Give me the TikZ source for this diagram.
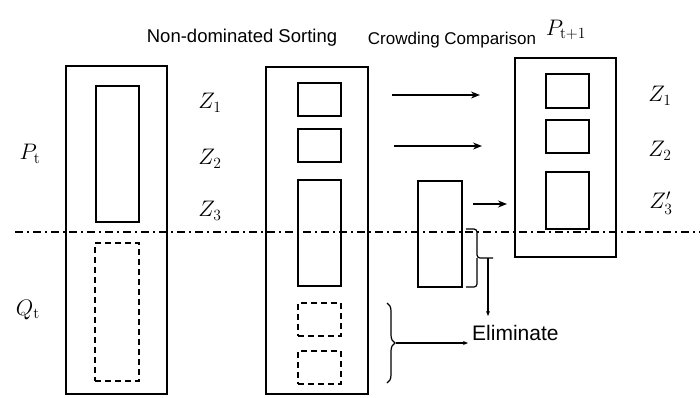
\documentclass[tikz,border=0pt]{standalone}
\usepackage{graphicx}
\usepackage[no-math]{fontspec}
\setmainfont{Liberation Sans}
\usetikzlibrary{arrows.meta,decorations.pathreplacing}
\newcommand{\bigmath}[1]{\scalebox{1.3}{$#1$}}
\begin{document}
\begin{tikzpicture}[x=1pt,y=-1pt,
  box/.style={draw,line width=1.6pt,inner sep=0pt,outer sep=0pt,anchor=north west},
  dbox/.style={box,dashed,line width=1.4pt,dash pattern=on 6pt off 4pt},
  lbl/.style={font=\fontsize{18.5}{22}\selectfont,inner sep=0pt},
  mlbl/.style={font=\fontsize{17.28}{21}\selectfont,inner sep=0pt},
  arr/.style={line width=1.4pt,-{Stealth[length=9pt,width=7pt]}},
  brc/.style={line width=1.2pt}]
\useasboundingbox (0,0) rectangle (700,397);
% left column
\node[box,minimum width=101pt,minimum height=328pt] (Lout) at (66,66) {};
\node[box,minimum width=43pt,minimum height=136pt] (Lin) at (96,86) {};
\node[dbox,minimum width=44pt,minimum height=138pt] (Ldash) at (95,243) {};
% middle column
\node[box,minimum width=102pt,minimum height=327pt] (Mout) at (266,67) {};
\node[box,minimum width=43pt,minimum height=33pt] (Mz1) at (298,83) {};
\node[box,minimum width=43pt,minimum height=33pt] (Mz2) at (298,129) {};
\node[box,minimum width=43pt,minimum height=106pt] (Mz3) at (298,180) {};
\node[dbox,minimum width=43pt,minimum height=33pt] (Md1) at (298,303) {};
\node[dbox,minimum width=43pt,minimum height=33pt] (Md2) at (298,351) {};
% crowding box
\node[box,minimum width=44pt,minimum height=106pt] (C) at (418,181) {};
% right column
\node[box,minimum width=101pt,minimum height=199pt] (Rout) at (515,58) {};
\node[box,minimum width=43pt,minimum height=34pt] (Rz1) at (546,74) {};
\node[box,minimum width=43pt,minimum height=33pt] (Rz2) at (546,120) {};
\node[box,minimum width=43pt,minimum height=57pt] (Rz3) at (546,172) {};
% dash-dot separator
\coordinate (sepL) at (15,232);
\coordinate (sepR) at (700,232);
\draw[line width=1.3pt,dash pattern=on 8pt off 4pt on 2pt off 4pt] (sepL) -- (sepR);
% titles
\node[lbl] (t1) at (242,38) {Non-dominated Sorting};
\node[lbl,font=\fontsize{17}{20}\selectfont] (t2) at (452,40) {Crowding Comparison};
\node[mlbl] (Pn) at (566,30) {\bigmath{P_{\mathrm{t+1}}}};
% side labels
\node[mlbl] (Pt) at (30,154) {\bigmath{P_{\mathrm{t}}}};
\node[mlbl] (Qt) at (28,310) {\bigmath{Q_{\mathrm{t}}}};
\node[mlbl] (Z1) at (210,103) {\bigmath{Z_1}};
\node[mlbl] (Z2) at (210,159) {\bigmath{Z_2}};
\node[mlbl] (Z3) at (210,211) {\bigmath{Z_3}};
\node[mlbl] (RZ1) at (660,96) {\bigmath{Z_1}};
\node[mlbl] (RZ2) at (660,151) {\bigmath{Z_2}};
\node[mlbl] (RZ3) at (661,203) {\bigmath{Z_3'}};
% arrows
\coordinate (a1s) at (392,95); \coordinate (a1e) at (480,95);
\coordinate (a2s) at (394,146); \coordinate (a2e) at (482,146);
\coordinate (a3s) at (473,204); \coordinate (a3e) at (507,204);
\draw[arr] (a1s) -- (a1e);
\draw[arr] (a2s) -- (a2e);
\draw[arr] (a3s) -- (a3e);
% small bracket
\coordinate (sbT) at (466,229);
\coordinate (sbB) at (466,287);
\coordinate (sbR) at (493,258);
\coordinate (sbA) at (488,258);
\coordinate (sbE) at (488,316);
\draw[brc,rounded corners=3pt] (sbT) -- (477,229) -- (477,258) -- (sbR);
\draw[brc,rounded corners=3pt] (sbB) -- (477,287) -- (477,258);
\draw[line width=1.1pt,-{Stealth[length=5pt,width=4pt]}] (sbA) -- (sbE);
% eliminate
\node[lbl,font=\fontsize{21}{25}\selectfont,anchor=west] (El) at (472,333) {Eliminate};
\coordinate (bbT) at (387,303);
\coordinate (bbB) at (387,383);
\draw[brc,decorate,decoration={brace,amplitude=8pt,aspect=0.5}] (bbT) -- (bbB);
\coordinate (bbM) at (396,343);
\coordinate (bbE) at (468,343);
\draw[line width=1.1pt,-{Stealth[length=5pt,width=4pt]}] (bbM) -- (bbE);
\end{tikzpicture}
\end{document}
